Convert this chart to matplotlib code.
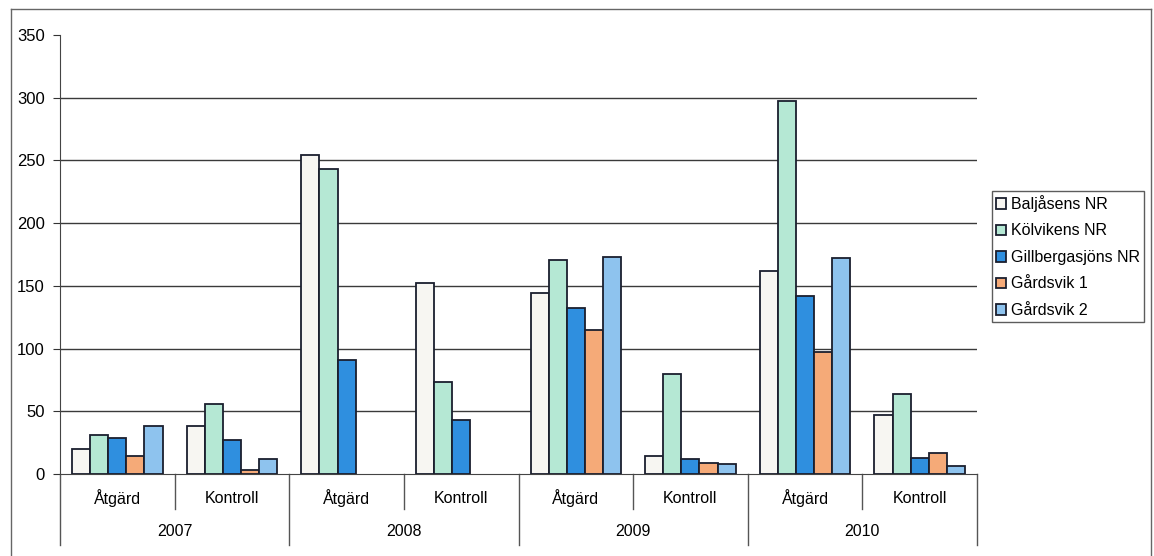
import numpy as np
import matplotlib.pyplot as plt
from matplotlib.lines import Line2D

plt.rcParams['font.family'] = ['Liberation Sans', 'DejaVu Sans']

years = ['2007', '2008', '2009', '2010']
treatments = ['Åtgärd', 'Kontroll']
series = ['Baljåsens NR', 'Kölvikens NR', 'Gillbergasjöns NR', 'Gårdsvik 1', 'Gårdsvik 2']

# one value per (year, treatment), in order 2007 Å, 2007 K, 2008 Å, ...
baljasens = [20, 38, 254, 152, 144, 14, 162, 47]
kolvikens = [31, 56, 243, 73, 171, 80, 297, 64]
gillbergasjons = [29, 27, 91, 43, 132, 12, 142, 13]
gardsvik1 = [14, 3, np.nan, np.nan, 115, 9, 97, 17]
gardsvik2 = [38, 12, np.nan, np.nan, 173, 8, 172, 6]

colors = ['#f7f6f2', '#b5e8d4', '#2f8fdf', '#f5aa78', '#8ec3ee']

fig = plt.figure(figsize=(11.54, 5.56), dpi=100)
ax = fig.add_axes([60/1154, 82/556, 917/1154, 439/556])

values = [baljasens, kolvikens, gillbergasjons, gardsvik1, gardsvik2]
x = np.arange(len(baljasens))
w = 0.158
for k, (vals, name, c) in enumerate(zip(values, series, colors)):
    ax.bar(x + (k - 2) * w, vals, w, color=c, edgecolor='#1a1f2e',
           linewidth=1.3, label=name, zorder=3)

ax.set_xlim(-0.5, len(x) - 0.5)
ax.set_ylim(0, 350)
ax.set_yticks(range(0, 351, 50))
ax.tick_params(axis='y', labelsize=12, length=5, color='#333333', pad=6)
ax.set_xticks([])
for gy in range(50, 301, 50):
    ax.axhline(gy, color='#3a3a3a', lw=1, zorder=1)
for s in ['top', 'right']:
    ax.spines[s].set_visible(False)
ax.spines['left'].set_color('#444444')
ax.spines['bottom'].set_color('#444444')

# two-level category axis
trans = ax.get_xaxis_transform()
for i in range(len(x) + 1):
    bottom = -0.162 if i % 2 == 0 else -0.08
    ax.add_line(Line2D([i - 0.5, i - 0.5], [0, bottom], transform=trans,
                       color='#555555', lw=1, clip_on=False))
for i in range(len(x)):
    ax.text(i, -0.055, treatments[i % 2], transform=trans, ha='center',
            va='center', fontsize=11.5)
for j, yr in enumerate(years):
    ax.text(2 * j + 0.5, -0.132, yr, transform=trans, ha='center',
            va='center', fontsize=11.5)

fig.legend(loc='upper left', bbox_to_anchor=(992/1154, 1 - 191/556),
           frameon=True, fancybox=False, edgecolor='#333333', fontsize=11.5,
           handlelength=0.65, handleheight=0.65, handletextpad=0.3,
           labelspacing=0.72, borderpad=0.25, borderaxespad=0)

# outer chart frame
for xs, ys in [([11, 11], [0, 547]), ([11, 1151], [547, 547]), ([1151, 1151], [547, 0])]:
    fig.add_artist(Line2D(np.array(xs)/1154, np.array(ys)/556,
                          color='#666666', lw=1))

fig.savefig('out.png', dpi=100)
